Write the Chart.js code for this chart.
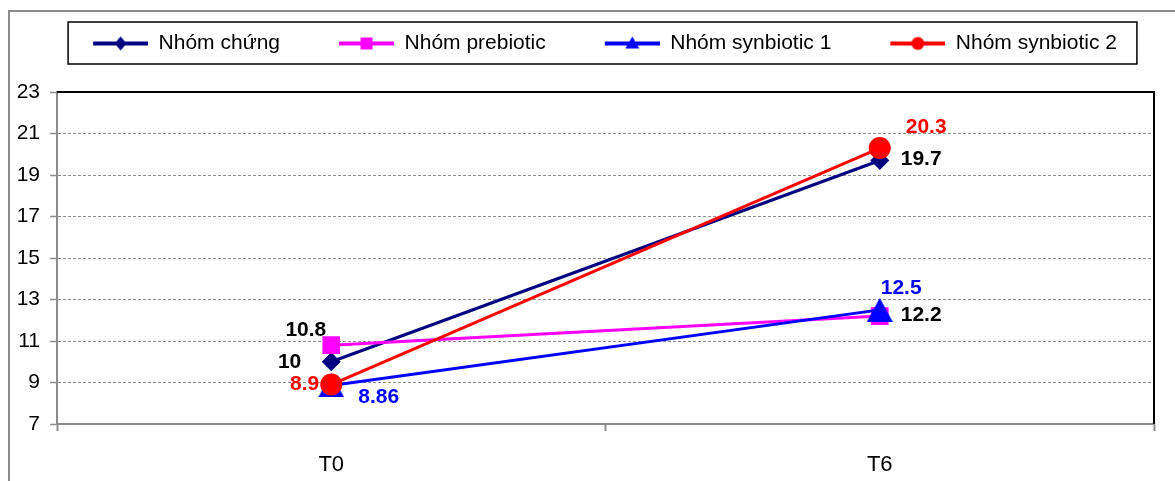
<!DOCTYPE html>
<html>
<head>
<meta charset="utf-8">
<script src="https://cdn.jsdelivr.net/npm/chart.js@4"></script>
<style>
  html, body { margin: 0; padding: 0; background: #fff; }
  #wrap { width: 1175px; height: 481px; }
</style>
</head>
<body>
<div id="wrap"><canvas id="line"></canvas></div>
<script>
var labels = ['T0', 'T6'];
var seriesNames = ['Nhóm chứng', 'Nhóm prebiotic', 'Nhóm synbiotic 1', 'Nhóm synbiotic 2'];
var nhomChung = [10, 19.7];
var nhomPrebiotic = [10.8, 12.2];
var nhomSynbiotic1 = [8.86, 12.5];
var nhomSynbiotic2 = [8.9, 20.3];
var yTicks = [7, 9, 11, 13, 15, 17, 19, 21, 23];

var FONT = "'Liberation Sans', Arial, sans-serif";

// legend sample: line + marker, drawn into a small canvas
function legendIcon(color, shape) {
    var c = document.createElement('canvas');
    c.width = 103; c.height = 22;
    var g = c.getContext('2d');
    g.strokeStyle = color; g.fillStyle = color; g.lineWidth = 4;
    g.beginPath(); g.moveTo(48, 11); g.lineTo(103, 11); g.stroke();
    var cx = 75.5, cy = 11;
    g.beginPath();
    if (shape == 'diamond') {
        g.moveTo(cx - 6, cy); g.lineTo(cx, cy - 7); g.lineTo(cx + 6, cy); g.lineTo(cx, cy + 7);
    } else if (shape == 'square') {
        g.rect(cx - 6, cy - 6, 12, 12);
    } else if (shape == 'triangle') {
        g.moveTo(cx, cy - 7); g.lineTo(cx + 7, cy + 5); g.lineTo(cx - 7, cy + 5);
    } else {
        g.arc(cx, cy, 6.5, 0, Math.PI * 2);
    }
    g.closePath(); g.fill();
    return c;
}

// Excel-like triangle marker, centred on its bounding box
function triangleMarker(color) {
    var c = document.createElement('canvas');
    c.width = 26; c.height = 24;
    var g = c.getContext('2d');
    g.fillStyle = color;
    g.beginPath(); g.moveTo(13, 0); g.lineTo(26, 24); g.lineTo(0, 24); g.closePath(); g.fill();
    return c;
}

var icons = [
    legendIcon('#000080', 'diamond'),
    legendIcon('#ff00ff', 'square'),
    legendIcon('#0000ff', 'triangle'),
    legendIcon('#ff0000', 'circle')
];

// value labels: [dx, dy, align] for each point
var labelStyle = [
    {color: '#000000', pos: [[-30, 0, 'right'], [21, -1, 'left']]},
    {color: '#000000', pos: [[-5, -15, 'right'], [21, -1, 'left']]},
    {color: '#0000ff', pos: [[27, 12, 'left'], [1, -22, 'left']]},
    {color: '#ff0000', pos: [[-12, 0, 'right'], [26, -21, 'left']]}
];

var framePlugin = {
    id: 'frame',
    beforeLayout: function (chart) {
        var lg = chart.legend;
        if (lg && !lg._tall) {
            var fit = lg.fit;
            lg.fit = function () { fit.call(this); this.height += 28; };
            lg._tall = true;
        }
    },
    afterLayout: function (chart) {
        // nudge legend items a little to the right
        var lg = chart.legend;
        lg.left += 8;
        if (lg.adjustHitBoxes) lg.adjustHitBoxes();
    },
    beforeDraw: function (chart) {
        var ctx = chart.ctx;
        ctx.save();
        ctx.strokeStyle = '#8c8c8c';
        ctx.lineWidth = 2;
        ctx.beginPath();
        ctx.moveTo(9, chart.height); ctx.lineTo(9, 11); ctx.lineTo(chart.width, 11);
        ctx.stroke();
        ctx.restore();
    },
    beforeDatasetsDraw: function (chart) {
        var ctx = chart.ctx, a = chart.chartArea;
        ctx.save();
        ctx.strokeStyle = '#000';
        ctx.lineWidth = 2;
        ctx.beginPath();
        ctx.moveTo(a.left, a.top); ctx.lineTo(a.right, a.top); ctx.lineTo(a.right, a.bottom);
        ctx.stroke();
        ctx.restore();
    },
    afterDraw: function (chart) {
        var ctx = chart.ctx, lg = chart.legend;
        var hb = lg.legendHitBoxes;
        if (!hb || !hb.length) return;
        var last = hb[hb.length - 1];
        var x1 = hb[0].left + 48 - 25, x2 = last.left + last.width + 20;
        ctx.save();
        ctx.strokeStyle = '#000';
        ctx.lineWidth = 1.5;
        ctx.strokeRect(x1, 22, x2 - x1, 42);
        ctx.restore();
    }
};

var valuePlugin = {
    id: 'values',
    afterDatasetsDraw: function (chart) {
        var ctx = chart.ctx;
        ctx.save();
        ctx.font = 'bold 21px ' + FONT;
        ctx.textBaseline = 'middle';
        chart.data.datasets.forEach(function (ds, i) {
            var meta = chart.getDatasetMeta(i);
            meta.data.forEach(function (pt, j) {
                var p = labelStyle[i].pos[j];
                ctx.fillStyle = labelStyle[i].color;
                ctx.textAlign = p[2];
                ctx.fillText(String(ds.data[j]), pt.x + p[0], pt.y + p[1]);
            });
        });
        ctx.restore();
    }
};

var ctx = document.getElementById('line').getContext('2d');
var myChart = new Chart(ctx, {
    type: 'line',
    data: {
        labels: labels,
        datasets: [{
            label: seriesNames[0],
            data: nhomChung,
            borderColor: '#000080', backgroundColor: '#000080',
            pointStyle: 'rectRot', pointRadius: 9.5,
            order: 4
        }, {
            label: seriesNames[1],
            data: nhomPrebiotic,
            borderColor: '#ff00ff', backgroundColor: '#ff00ff',
            pointStyle: 'rect', pointRadius: 12.5,
            order: 3
        }, {
            label: seriesNames[2],
            data: nhomSynbiotic1,
            borderColor: '#0000ff', backgroundColor: '#0000ff',
            pointStyle: triangleMarker('#0000ff'), pointRadius: 13,
            order: 2
        }, {
            label: seriesNames[3],
            data: nhomSynbiotic2,
            borderColor: '#ff0000', backgroundColor: '#ff0000',
            pointStyle: 'circle', pointRadius: 11,
            order: 1
        }]
    },
    options: {
        responsive: true,
        maintainAspectRatio: false,
        animation: false,
        events: [],
        layout: { padding: { top: 22, right: 21, left: 0, bottom: 0 } },
        elements: {
            line: { borderWidth: 3, tension: 0, fill: false },
            point: { borderWidth: 0 }
        },
        plugins: {
            tooltip: { enabled: false },
            legend: {
                position: 'top',
                labels: {
                    usePointStyle: true,
                    pointStyleWidth: 103,
                    padding: 11,
                    color: '#000',
                    font: { family: FONT, size: 21 },
                    sort: function (a, b) { return a.datasetIndex - b.datasetIndex; },
                    generateLabels: function (chart) {
                        var items = Chart.defaults.plugins.legend.labels.generateLabels(chart);
                        items.forEach(function (it) { it.pointStyle = icons[it.datasetIndex]; });
                        return items;
                    }
                }
            }
        },
        scales: {
            x: {
                offset: true,
                grid: {
                    offset: true,
                    drawOnChartArea: false,
                    drawTicks: true,
                    tickLength: 7,
                    tickColor: '#8c8c8c',
                    tickWidth: 2
                },
                border: { display: true, color: '#8c8c8c', width: 2 },
                ticks: { color: '#000', padding: 21, font: { family: FONT, size: 22 } },
                afterFit: function (s) { s.height = 57; }
            },
            y: {
                min: 7,
                max: 23,
                afterBuildTicks: function (s) {
                    s.ticks = yTicks.map(function (v) { return {value: v}; });
                },
                grid: {
                    color: function (c) {
                        var v = c.tick && c.tick.value;
                        return (v === 7 || v === 23) ? 'rgba(0,0,0,0)' : '#909090';
                    },
                    lineWidth: 1,
                    tickLength: 7,
                    tickColor: '#8c8c8c',
                    tickWidth: 1.5,
                    tickBorderDash: []
                },
                border: { display: true, color: '#8c8c8c', width: 2, dash: [3, 2] },
                ticks: { color: '#000', padding: 10, font: { family: FONT, size: 21 } },
                afterFit: function (s) { s.width = 57; }
            }
        }
    },
    plugins: [framePlugin, valuePlugin]
});
</script>
</body>
</html>
